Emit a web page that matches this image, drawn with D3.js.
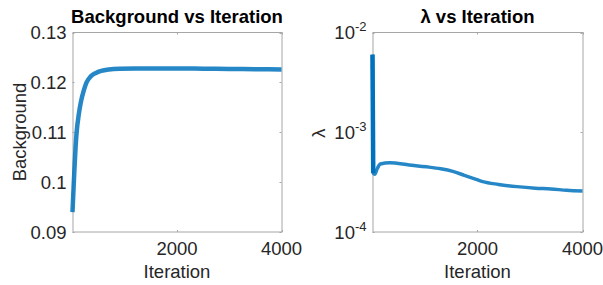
<!DOCTYPE html>
<html><head><meta charset="utf-8">
<script src="https://cdn.jsdelivr.net/npm/d3@7"></script>
<style>body{margin:0;background:#fff}svg{display:block}text{font-family:"Liberation Sans",Arial,sans-serif}</style>
</head><body><svg id="c" width="603" height="285"></svg>
<script>
// Data
const bgIter = [1, 20, 40, 60, 80, 120, 160, 220, 270, 350, 450, 550, 700, 900, 1200, 1500, 2000, 2500, 3000, 3500, 4000];
const bgValues = [0.0940, 0.0985, 0.1030, 0.1070, 0.1100, 0.1135, 0.1160, 0.1185, 0.1200, 0.1212, 0.1219, 0.1223, 0.1226, 0.12275, 0.1228, 0.1228, 0.1228, 0.12275, 0.1227, 0.12265, 0.1226];
const lamIter = [1, 15, 45, 90, 150, 330, 700, 1030, 1300, 1530, 1750, 1975, 2100, 2400, 2750, 3100, 3400, 3700, 4000];
const lamValues = [6.0e-3, 3.9e-4, 3.8e-4, 4.3e-4, 4.8e-4, 4.95e-4, 4.7e-4, 4.5e-4, 4.3e-4, 4.05e-4, 3.7e-4, 3.37e-4, 3.2e-4, 3.0e-4, 2.85e-4, 2.75e-4, 2.7e-4, 2.62e-4, 2.57e-4];
const xTicks = [2000, 4000];
const bgTicks = [0.09, 0.10, 0.11, 0.12, 0.13];
const bgTickLabels = ["0.09", "0.1", "0.11", "0.12", "0.13"];
const lamTicks = [1e-4, 1e-3, 1e-2];
const lamTickExp = ["-4", "-3", "-2"];

const svg = d3.select("#c");
const axisColor = "#a6a6a6", textColor = "#262626", lineColor = "#0072BD";
const plotTop = 32.5, plotBottom = 232;

function panel(x0, x1, yScale, title, iters, vals, yTicks, labelFn, lw, boldN) {
  const x = d3.scaleLinear().domain([1, 4000]).range([x0, x1]);
  const g = svg.append("g");
  g.append("rect").attr("x", x0 + 0.5).attr("y", plotTop).attr("width", x1 - x0).attr("height", plotBottom - plotTop)
    .attr("fill", "none").attr("stroke", axisColor).attr("stroke-width", 1);
  xTicks.forEach(t => {
    const px = Math.round(x(t)) + 0.5;
    g.append("line").attr("x1", px).attr("x2", px).attr("y1", plotBottom).attr("y2", plotBottom - 2).attr("stroke", axisColor);
    g.append("line").attr("x1", px).attr("x2", px).attr("y1", plotTop).attr("y2", plotTop + 2).attr("stroke", axisColor);
    g.append("text").attr("x", x(t)).attr("y", 255).attr("text-anchor", "middle")
      .attr("font-size", 18.5).attr("fill", textColor).text(d3.format("d")(t));
  });
  yTicks.forEach((t, i) => {
    const py = Math.round(yScale(t)) + 0.5;
    g.append("line").attr("x1", x0).attr("x2", x0 + 2).attr("y1", py).attr("y2", py).attr("stroke", axisColor);
    g.append("line").attr("x1", x1).attr("x2", x1 - 2).attr("y1", py).attr("y2", py).attr("stroke", axisColor);
    labelFn(g, yScale(t), i);
  });
  const line = d3.line().x((d, i) => x(iters[i])).y(d => yScale(d)).curve(d3.curveMonotoneX);
  g.append("path").datum(vals).attr("d", line).attr("fill", "none").attr("stroke", lineColor)
    .attr("stroke-width", lw).attr("stroke-opacity", 0.85);
  if (boldN) {
    const l2 = d3.line().x((d, i) => x(iters[i])).y(d => yScale(d));
    g.append("path").datum(vals.slice(0, boldN)).attr("d", l2).attr("fill", "none").attr("stroke", lineColor)
      .attr("stroke-width", 4.5);
  }
  g.append("text").attr("x", (x0 + x1) / 2).attr("y", 23).attr("text-anchor", "middle")
    .attr("font-size", 18.5).attr("font-weight", "bold").attr("fill", "#000").text(title);
  g.append("text").attr("x", (x0 + x1) / 2).attr("y", 278).attr("text-anchor", "middle")
    .attr("font-size", 18.5).attr("fill", textColor).text("Iteration");
  return g;
}

const yBg = d3.scaleLinear().domain([0.09, 0.13]).range([plotBottom, plotTop]);
const g1 = panel(72.5, 281.5, yBg, "Background vs Iteration", bgIter, bgValues, bgTicks,
  (g, py, i) => {
    g.append("text").attr("x", 66.5).attr("y", py + 6.5).attr("text-anchor", "end")
      .attr("font-size", 18.5).attr("fill", textColor).text(bgTickLabels[i]);
  }, 4.5, 0);
g1.append("text").attr("transform", "translate(26,132) rotate(-90)").attr("text-anchor", "middle")
  .attr("font-size", 18.5).attr("fill", textColor).text("Background");

const yLam = d3.scaleLog().domain([1e-4, 1e-2]).range([plotBottom, plotTop]);
const g2 = panel(372.5, 582.5, yLam, "\u03bb vs Iteration", lamIter, lamValues, lamTicks,
  (g, py, i) => {
    const t = g.append("text").attr("x", 366.5).attr("y", py + 6.5).attr("text-anchor", "end")
      .attr("font-size", 18.5).attr("fill", textColor);
    t.append("tspan").text("10");
    t.append("tspan").attr("font-size", 13).attr("dy", -8).text(lamTickExp[i]);
  }, 3.5, 2);
g2.append("text").attr("transform", "translate(325,133) rotate(-90)").attr("text-anchor", "middle")
  .attr("font-size", 18.5).attr("fill", textColor).text("\u03bb");
</script></body></html>
